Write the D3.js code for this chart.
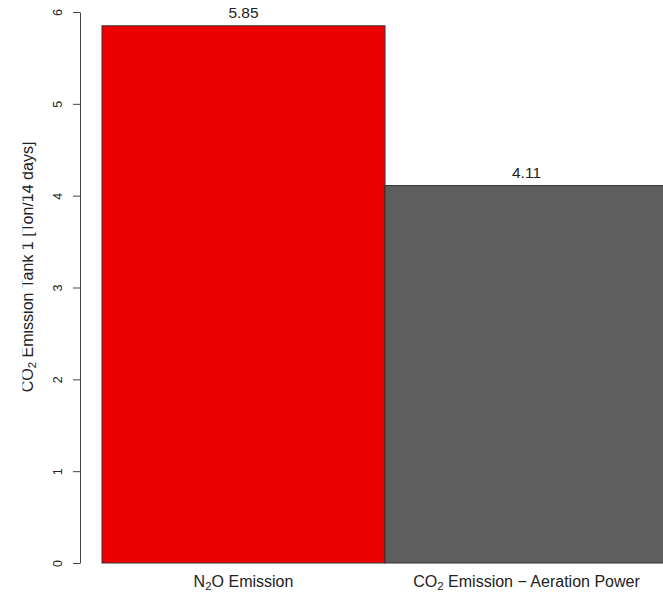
<!DOCTYPE html>
<html>
<head>
<meta charset="utf-8">
<script src="https://cdn.jsdelivr.net/npm/d3@7"></script>
<style>
  body { margin: 0; background: #fff; }
  text { font-family: "Liberation Sans", Arial, sans-serif; fill: #222; }
</style>
</head>
<body>
<div id="chart"></div>
<script>
// data
const categories = ["n2o", "co2"];
const values = [5.85, 4.11];
const barColors = ["#ee0000", "#5e5e5e"];
const yTicks = [0, 1, 2, 3, 4, 5, 6];

const width = 663, height = 593;

const svg = d3.select("#chart").append("svg")
    .attr("width", width)
    .attr("height", height);

const x = d3.scaleBand()
    .domain(categories)
    .range([102, 668])
    .padding(0);

const y = d3.scaleLinear()
    .domain([0, 6])
    .range([563, 12]);

// bars
svg.selectAll(".bar")
    .data(values)
  .enter().append("rect")
    .attr("class", "bar")
    .attr("x", (d, i) => x(categories[i]))
    .attr("width", x.bandwidth())
    .attr("y", d => y(d))
    .attr("height", d => y(0) - y(d))
    .attr("fill", (d, i) => barColors[i])
    .attr("stroke", "#333")
    .attr("stroke-width", 1);

// value labels
svg.selectAll(".bar-text")
    .data(values)
  .enter().append("text")
    .attr("class", "bar-text")
    .attr("x", (d, i) => x(categories[i]) + x.bandwidth() / 2)
    .attr("y", d => y(d) - 7.5)
    .attr("text-anchor", "middle")
    .attr("font-size", 15.5)
    .text(d => d.toFixed(2));

// y axis
const yAxis = svg.append("g")
    .attr("transform", "translate(80,0)")
    .call(d3.axisLeft(y).tickValues(yTicks).tickFormat(d3.format("d")).tickSize(7).tickSizeOuter(0));
yAxis.select(".domain").attr("stroke", "#444");
yAxis.selectAll(".tick line").attr("stroke", "#444");
yAxis.selectAll(".tick text")
    .attr("font-size", 12.5)
    .attr("font-family", "Liberation Sans, Arial, sans-serif")
    .attr("fill", "#222")
    .attr("transform", "rotate(-90)")
    .attr("text-anchor", "middle")
    .attr("x", 0)
    .attr("y", -18)
    .attr("dy", 0);

// x labels (with subscripts)
const xLabels = [
  { cat: "n2o", parts: [["N", 0], ["2", 1], ["O Emission", 0]] },
  { cat: "co2", parts: [["CO", 0], ["2", 1], [" Emission \u2212 Aeration Power", 0]] }
];
xLabels.forEach(lab => {
  const t = svg.append("text")
      .attr("x", x(lab.cat) + x.bandwidth() / 2)
      .attr("y", 587)
      .attr("text-anchor", "middle")
      .attr("font-size", 16);
  lab.parts.forEach((p, i) => {
    t.append("tspan")
      .attr("font-size", p[1] ? 11.5 : 16)
      .attr("dy", p[1] ? 3 : (i > 0 ? -3 : 0))
      .text(p[0]);
  });
});

// y title, clipped at the left edge like the reference
svg.append("clipPath").attr("id", "yclip")
  .append("rect").attr("x", 22.5).attr("y", 0).attr("width", 60).attr("height", height);

const yt = svg.append("g")
    .attr("clip-path", "url(#yclip)")
  .append("text")
    .attr("transform", "translate(32.5,267) rotate(-90)")
    .attr("text-anchor", "middle")
    .attr("font-size", 16);
yt.append("tspan").text("CO");
yt.append("tspan").attr("font-size", 11.5).attr("dy", 3).text("2");
yt.append("tspan").attr("dy", -3).text(" Emission Tank 1 [Ton/14 days]");
</script>
</body>
</html>
